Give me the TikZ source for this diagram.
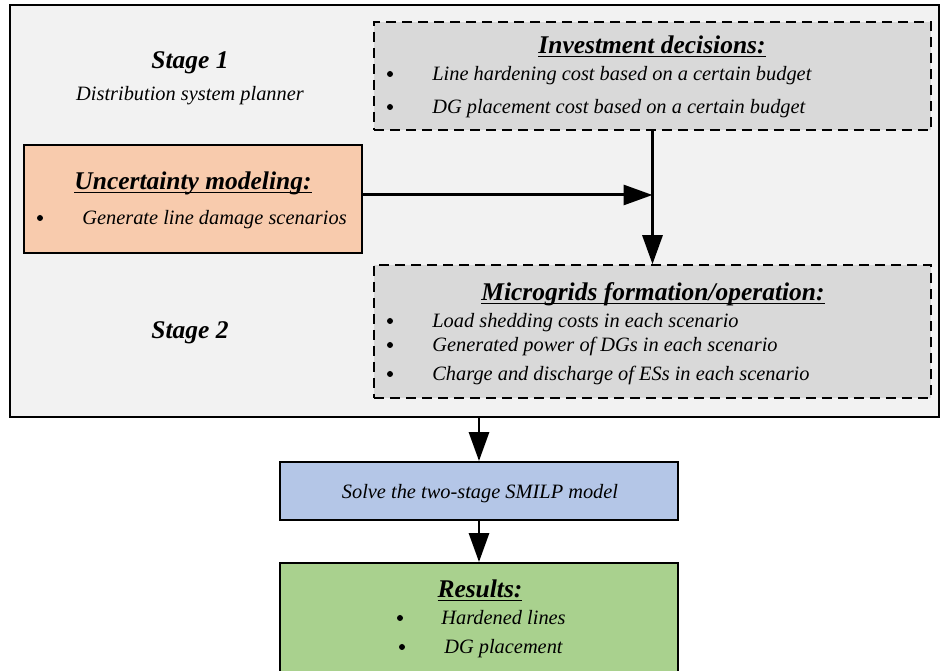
\documentclass[tikz,border=0pt]{standalone}
\usepackage{fontspec}
\setmainfont{Liberation Serif}
\usetikzlibrary{arrows.meta}

\definecolor{outergray}{HTML}{F2F2F2}
\definecolor{decgray}{HTML}{D9D9D9}
\definecolor{uncorange}{HTML}{F8CBAD}
\definecolor{solveblue}{HTML}{B4C6E7}
\definecolor{resgreen}{HTML}{A9D18E}
\newcommand{\headline}[1]{\underline{\smash{#1}}}

\begin{document}
\begin{tikzpicture}[x=0.02cm,y=-0.02cm,
  box/.style={draw,rectangle,line width=1.1pt,inner sep=0pt},
  dashbox/.style={draw,rectangle,line width=0.9pt,dash pattern=on 0.2cm off 0.12cm,fill=decgray,inner sep=0pt},
  head/.style={inner sep=0pt,text height=0.85em,text depth=0.1em,font=\fontsize{14.5}{17}\selectfont\bfseries\itshape},
  item/.style={anchor=west,inner sep=0pt,text height=0.85em,text depth=0.1em,font=\fontsize{11.6}{14}\selectfont\itshape},
  dot/.style={circle,fill,inner sep=0pt,minimum size=0.12cm},
  flow/.style={line width=1.7pt,-{Triangle[length=0.58cm,width=0.4cm]}}]
\useasboundingbox (0,0) rectangle (941,671);

\node [box,fill=outergray,line width=1.4pt,minimum width=18.58cm,minimum height=8.24cm] (planner) at(474.5,211){};
\node [dashbox,minimum width=11.14cm,minimum height=2.16cm] (invest) at(652.5,76){};
\node [box,fill=uncorange,minimum width=6.76cm,minimum height=2.16cm] (uncert) at(193,199){};
\node [dashbox,minimum width=11.14cm,minimum height=2.66cm] (micro) at(652.5,331.5){};
\node [box,fill=solveblue,minimum width=7.96cm,minimum height=1.16cm] (solve) at(479,491){};
\node [box,fill=resgreen,minimum width=7.96cm,minimum height=2.2cm] (results) at(479,618){};

% stage labels
\node [head] (stage1) at(190,62){Stage 1};
\node [item,anchor=center] (dsp) at(190,94){Distribution system planner};
\node [head] (stage2) at(190,332){Stage 2};

% investment decisions
\node [head] (investhead) at(652,47){\headline{Investment decisions:}};
\node [dot] (id1) at(390,74){};
\node [item] (it1) at(432,74){Line hardening cost based on a certain budget};
\node [dot] (id2) at(390,107){};
\node [item] (it2) at(432,107){DG placement cost based on a certain budget};

% uncertainty
\node [head] (unchead) at(193,183){\headline{Uncertainty modeling:}};
\node [dot] (ud1) at(40,218){};
\node [item] (ut1) at(82,218){Generate line damage scenarios};

% microgrids
\node [head] (microhead) at(653,294){\headline{Microgrids formation/operation:}};
\node [dot] (md1) at(390,321){};
\node [item] (mt1) at(432,321){Load shedding costs in each scenario};
\node [dot] (md2) at(390,345){};
\node [item] (mt2) at(432,345){Generated power of DGs in each scenario};
\node [dot] (md3) at(390,374){};
\node [item] (mt3) at(432,374){Charge and discharge of ESs in each scenario};

% solve and results
\node [item,anchor=center] (solvetxt) at(480,492){Solve the two-stage SMILP model};
\node [head] (reshead) at(480,591){\headline{Results:}};
\node [dot] (rd1) at(400,618){};
\node [item] (rt1) at(441,618){Hardened lines};
\node [dot] (rd2) at(402,647){};
\node [item] (rt2) at(444,647){DG placement};

\coordinate (join) at (invest.south |- 0,195);
\draw[flow] (uncert.east |- join) -- (join);
\draw[flow] (invest.south) -- (micro.north);
\draw[flow] (planner.south -| solve.north) -- (solve.north);
\draw[flow] (solve.south) -- (results.north);
\end{tikzpicture}
\end{document}
